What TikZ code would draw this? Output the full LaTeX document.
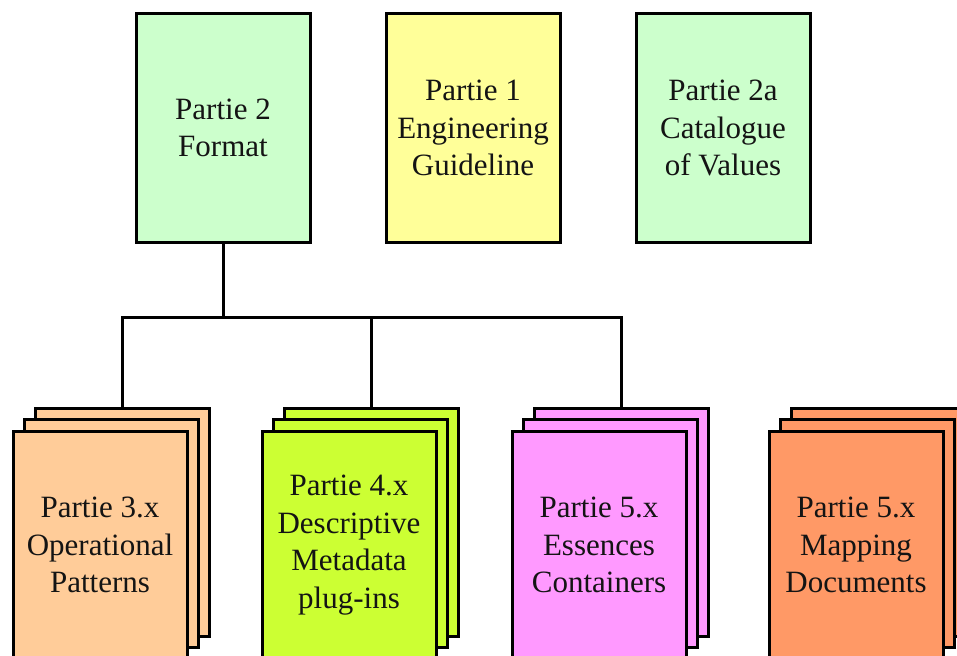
\documentclass[tikz,border=0pt]{standalone}
\usepackage{fontspec}
\setmainfont{Liberation Serif}
\definecolor{paleGreen}{HTML}{CCFFCC}
\definecolor{paleYellow}{HTML}{FFFF99}
\definecolor{peach}{HTML}{FFCC99}
\definecolor{lime}{HTML}{CCFF33}
\definecolor{pinkish}{HTML}{FF99FF}
\definecolor{salmon}{HTML}{FF9966}
\definecolor{ink}{HTML}{141414}
\tikzset{
  doc/.style={draw=black, line width=3pt, minimum width=174pt, minimum height=228pt,
              inner sep=0pt, align=center, text=ink, font=\fontsize{31}{37.5}\selectfont},
  link/.style={draw=black, line width=3pt},
}
\begin{document}
\begin{tikzpicture}[x=1pt,y=-1pt]
\clip (0,0) rectangle (957,655);
\fill[white] (0,0) rectangle (957,655);

% upper row of single documents
\node[doc, fill=paleGreen]  (p2)  at (223,128) {Partie 2\\Format};
\node[doc, fill=paleYellow] (p1)  at (473,128) {Partie 1\\Engineering\\Guideline};
\node[doc, fill=paleGreen]  (p2a) at (723,128) {Partie 2a\\Catalogue\\of Values};

% lower row: stacks of three sheets (back, middle, front)
\foreach \n/\cx/\col in {s1/122/peach, s2/371/lime, s3/621/pinkish, s4/878/salmon}{
  \node[doc, fill=\col] (\n c) at (\cx,522) {};
  \node[doc, fill=\col] (\n b) at (\cx-11,533) {};
}
\node[doc, fill=peach]   (s1a) at (100,545) {Partie 3.x\\Operational\\Patterns};
\node[doc, fill=lime]    (s2a) at (349,545) {Partie 4.x\\Descriptive\\Metadata\\plug-ins};
\node[doc, fill=pinkish] (s3a) at (599,545) {Partie 5.x\\Essences\\Containers};
\node[doc, fill=salmon]  (s4a) at (856,545) {Partie 5.x\\Mapping\\Documents};

% tree connectors
\coordinate (bus) at (223,317);
\draw[link] (p2.south) -- (bus);
\draw[link] (s1c.north) |- (bus) -| (s3c.north);
\draw[link] (s2c.north) -- (s2c.north |- bus);
\end{tikzpicture}
\end{document}
